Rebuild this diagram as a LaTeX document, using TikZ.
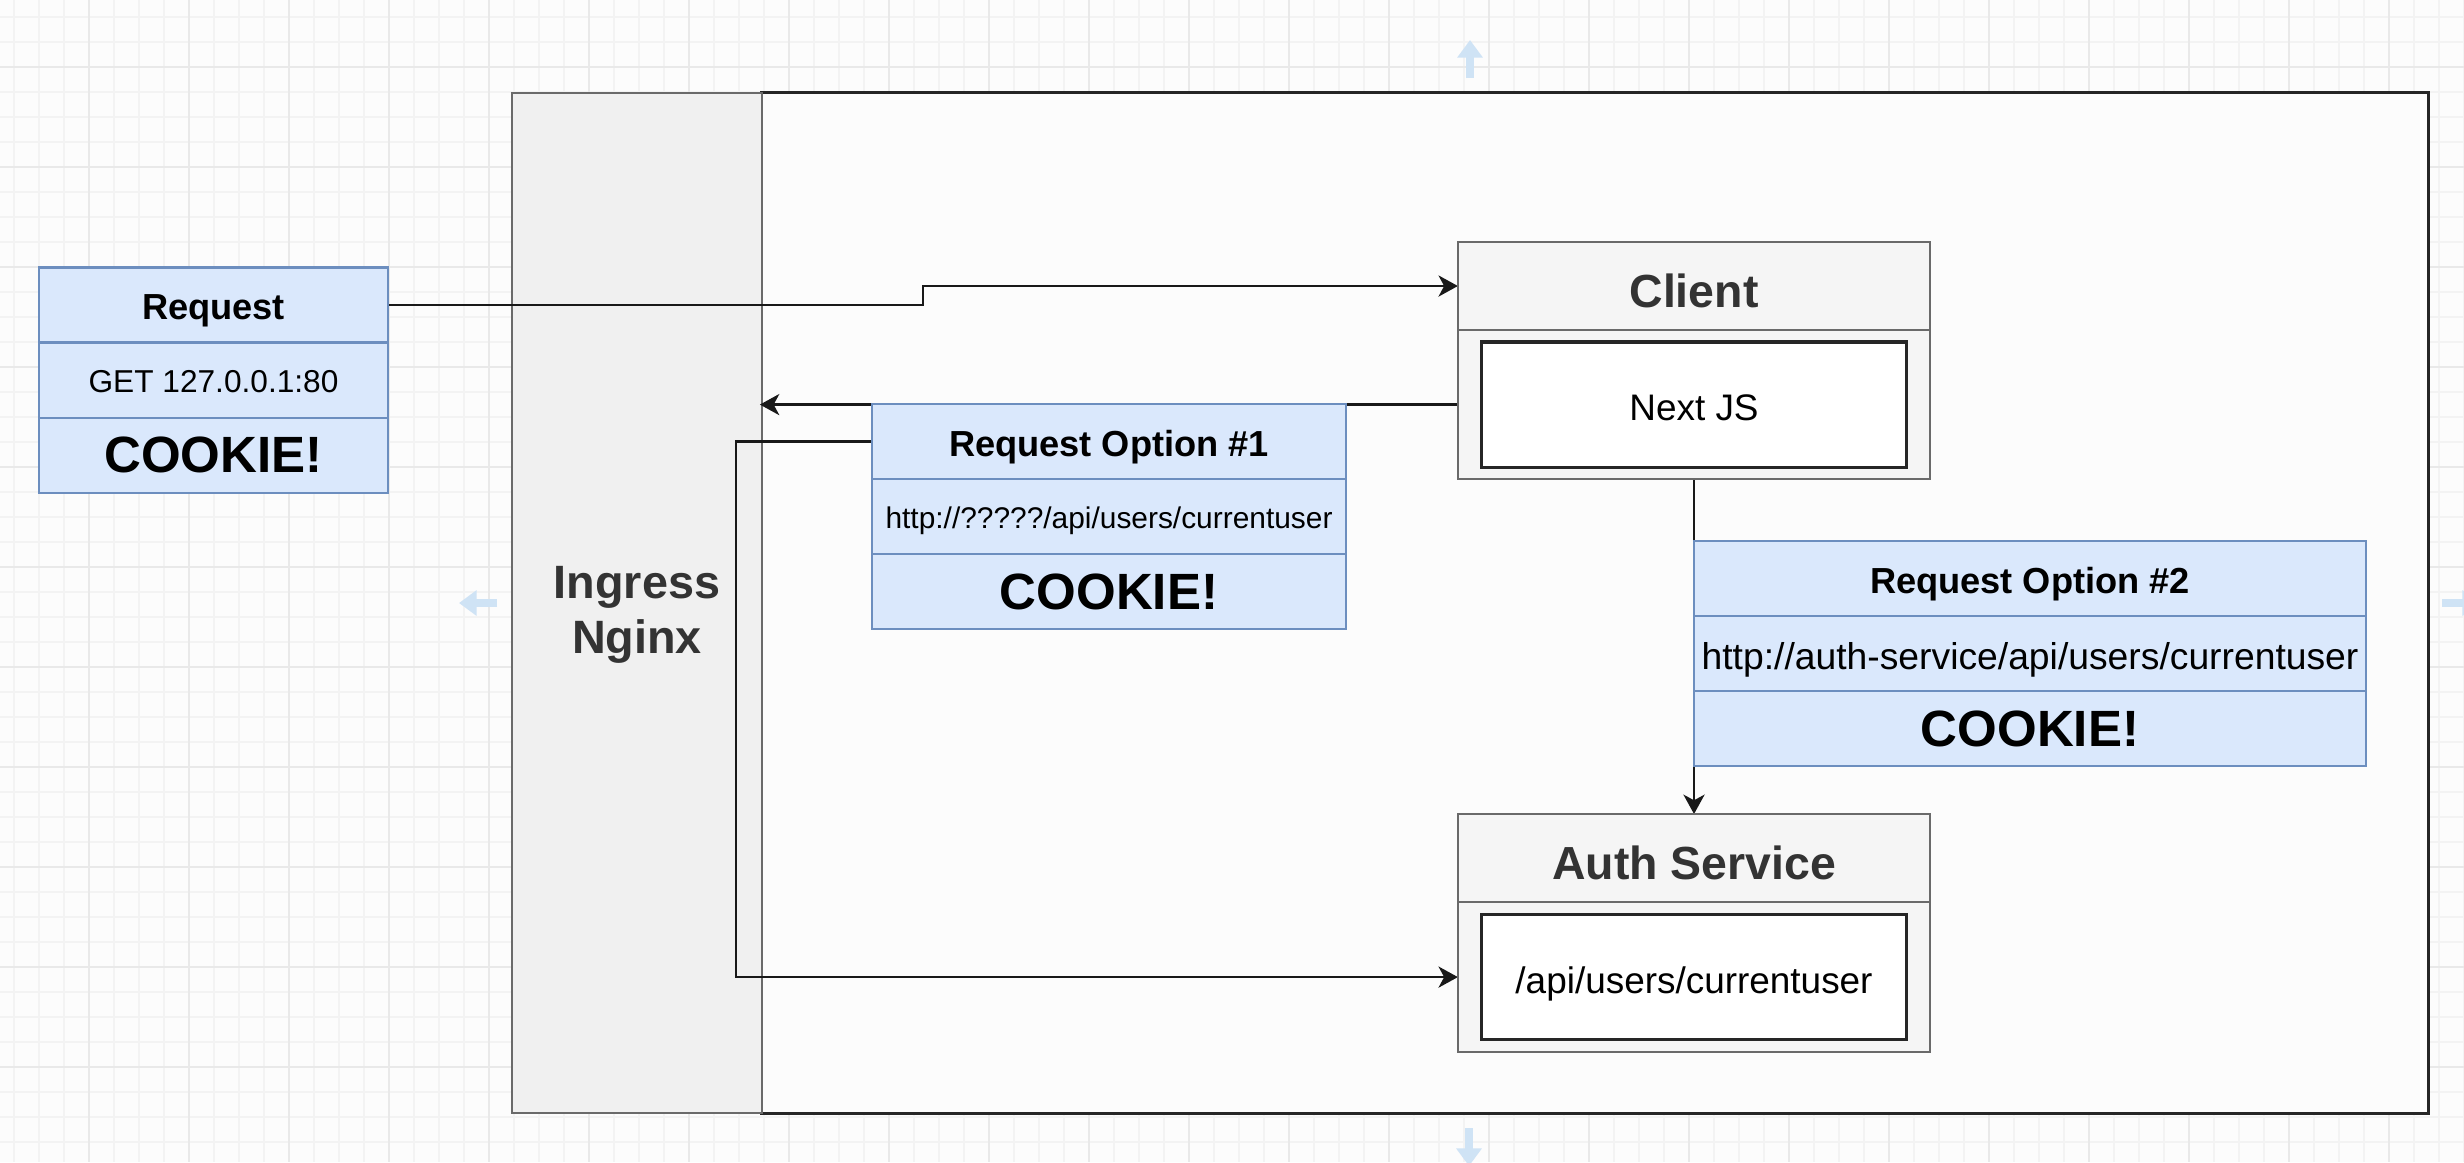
\documentclass[tikz,border=0pt]{standalone}
\usepackage{fontspec}
\setmainfont{Liberation Sans}
\usetikzlibrary{positioning,arrows.meta,calc}
\definecolor{bluefill}{HTML}{DAE8FC}
\definecolor{blueline}{HTML}{6C8EBF}
\definecolor{grayfill}{HTML}{F5F5F5}
\definecolor{grayline}{HTML}{6A6A6A}
\definecolor{panelfill}{HTML}{F0F0F0}
\definecolor{darktext}{HTML}{333333}
\definecolor{gridminor}{HTML}{F3F3F3}
\definecolor{gridmajor}{HTML}{E9E9E9}
\definecolor{hintblue}{HTML}{CFE3F5}
\pgfdeclarelayer{base}
\pgfdeclarelayer{edges}
\pgfsetlayers{base,edges,main}

\tikzset{
  conn/.style={line width=0.75pt, draw=black!90, -{Stealth[length=5.5pt,width=6pt,inset=1.6pt]}},
  bluerow/.style={draw=blueline, fill=bluefill, line width=0.6pt, inner sep=0pt, outer sep=0pt, minimum width=#1, minimum height=0.75cm},
  grayrow/.style={draw=grayline, fill=grayfill, line width=0.7pt, inner sep=0pt, outer sep=0pt, minimum width=4.72cm, text=darktext},
  innerbox/.style={draw=black!85, fill=white, line width=0.9pt, inner sep=0pt, minimum width=4.25cm, minimum height=1.25cm, font=\fontsize{10.5}{12}\selectfont, text height=9.3pt, text depth=0pt},
  boxtitle/.style={font=\fontsize{10.3}{12}\selectfont\bfseries, text height=8.3pt, text depth=0pt},
  svctitle/.style={font=\fontsize{13.2}{15}\selectfont\bfseries, text height=12.3pt, text depth=0pt},
  cookie/.style={font=\fontsize{14.5}{17}\selectfont\bfseries},
  hint/.style={draw=hintblue, line width=2.2pt, -{Triangle[length=5pt,width=7pt]}}
}

\begin{document}
\begin{tikzpicture}[x=0.01cm, y=-0.01cm]
\useasboundingbox (0,0) rectangle (2464,1162);

% canvas, grid and the two big panels
\begin{pgfonlayer}{base}
\fill[white!99!black] (0,0) rectangle (2464,1162);
\foreach \gx in {14,39,...,2464} \draw[gridminor, line width=0.35pt] (\gx,0) -- (\gx,1162);
\foreach \gy in {17,42,...,1162} \draw[gridminor, line width=0.35pt] (0,\gy) -- (2464,\gy);
\foreach \gx in {89,189,...,2464} \draw[gridmajor, line width=0.35pt] (\gx,0) -- (\gx,1162);
\foreach \gy in {67,167,...,1162} \draw[gridmajor, line width=0.35pt] (0,\gy) -- (2464,\gy);
\draw[hint] (1470,78) -- (1470,40);
\draw[hint] (1469,1128) -- (1469,1166);
\draw[hint] (497,603) -- (459,603);
\draw[hint] (2442,603) -- (2480,603);
\node[draw=black!85, fill=white!99!black, line width=0.9pt, minimum width=16.66cm, minimum height=10.2cm, inner sep=0pt] (cluster) at (1595,603) {};
\node[draw=grayline, fill=panelfill, line width=0.6pt, minimum width=2.5cm, minimum height=10.2cm, inner sep=0pt] (nginx) at (637,603) {};
\end{pgfonlayer}

\node[align=center, text=darktext, font=\fontsize{13.3}{15.6}\selectfont\bfseries] (ingress) at (637,615) {Ingress\\Nginx};

% incoming request
\node[bluerow=3.49cm, boxtitle] (reqhead) at (213.5,305) {Request};
\node[bluerow=3.49cm, below=0pt of reqhead, font=\fontsize{9}{11}\selectfont, text height=7.3pt, text depth=0pt] (requrl) {GET 127.0.0.1:80};
\node[bluerow=3.49cm, below=0pt of requrl, cookie] (reqcookie) {COOKIE!};

% client
\node[grayrow, minimum height=0.88cm, svctitle] (clienthead) at (1694,286) {Client};
\node[grayrow, minimum height=1.49cm, below=0pt of clienthead] (clientbody) {};
\node[innerbox] (nextjs) at (clientbody.center) {Next JS};

% auth service
\node[grayrow, minimum height=0.88cm, svctitle] (authhead) at (1694,858) {Auth Service};
\node[grayrow, minimum height=1.5cm, below=0pt of authhead] (authbody) {};
\node[innerbox] (authapi) at (authbody.center) {/api/users/currentuser};

% request option 1
\node[bluerow=4.74cm, boxtitle] (opt1head) at (1109,441.5) {Request Option \#1};
\node[bluerow=4.74cm, below=0pt of opt1head, font=\fontsize{8.5}{10}\selectfont, text height=6.9pt, text depth=0pt] (opt1url) {http://?????/api/users/currentuser};
\node[bluerow=4.74cm, below=0pt of opt1url, cookie] (opt1cookie) {COOKIE!};

% request option 2
\node[bluerow=6.72cm, boxtitle] (opt2head) at (2030,578.5) {Request Option \#2};
\node[bluerow=6.72cm, below=0pt of opt2head, font=\fontsize{10.6}{12}\selectfont, text height=9.2pt, text depth=0pt] (opt2url) {http://auth-service/api/users/currentuser};
\node[bluerow=6.72cm, below=0pt of opt2url, cookie] (opt2cookie) {COOKIE!};

\begin{pgfonlayer}{edges}
\draw[conn] (reqhead.east) -| ($(reqhead.east)!.5!(clienthead.west)$) |- (clienthead.west);
\draw[conn] (clientbody.west) -- (clientbody.west -| cluster.west);
\draw[conn] (opt1head.west) -- ++(-136,0) |- (authbody.west);
\draw[conn] (clientbody.south) -- (authhead.north);
\end{pgfonlayer}
\end{tikzpicture}
\end{document}
